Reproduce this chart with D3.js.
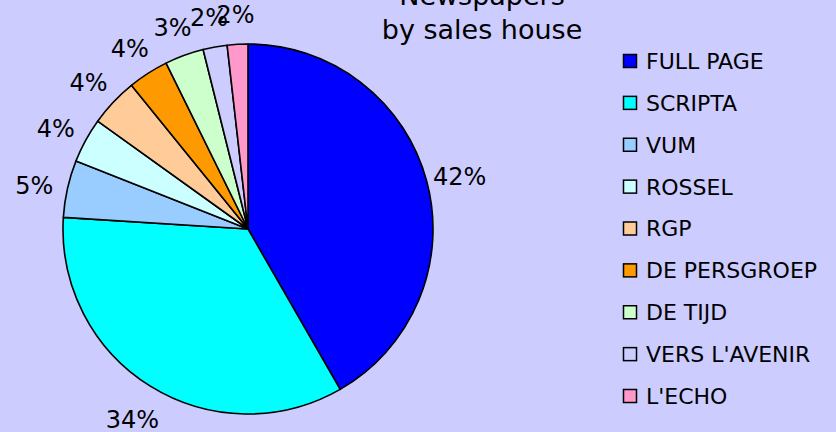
<!DOCTYPE html>
<html>
<head>
<meta charset="utf-8">
<script src="https://cdn.jsdelivr.net/npm/d3@7"></script>
<style>
  html, body { margin: 0; padding: 0; background: #ccccff; }
  svg { display: block; font-family: "DejaVu Sans", Verdana, sans-serif; }
</style>
</head>
<body>
<svg id="chart" width="836" height="432"></svg>
<script>
const title_lines = ['Newspapers', 'by sales house']
const houses = ['FULL PAGE', 'SCRIPTA', 'VUM', 'ROSSEL', 'RGP', 'DE PERSGROEP', 'DE TIJD', "VERS L'AVENIR", "L'ECHO"]
const shares = [41.7, 34.3, 5.0, 3.9, 4.25, 3.55, 3.4, 2.1, 1.8]
const colours = ['#0000ff', '#00ffff', '#99ccff', '#ccffff', '#ffcc99', '#ff9900', '#ccffcc', '#ccccff', '#ff99cc']

const width = 836
const height = 432
const cx = 248
const cy = 229
const radius = 185
const label_radius = 219

const svg = d3.select('#chart')

svg.append('rect')
  .attr('width', width)
  .attr('height', height)
  .attr('fill', '#ccccff')

const rows = houses.map((h, i)=> ({ house: h, share: shares[i], colour: colours[i] }))
const total = d3.sum(shares)

const pie = d3.pie()
  .value((d)=> d.share)
  .sort(null)

const arc = d3.arc()
  .innerRadius(0)
  .outerRadius(radius)

const label_arc = d3.arc()
  .innerRadius(label_radius)
  .outerRadius(label_radius)

const arcs = pie(rows)
const g = svg.append('g').attr('transform', `translate(${cx},${cy})`)

g.selectAll('.slice')
  .data(arcs)
  .enter()
  .append('path')
  .attr('class', 'slice')
  .attr('d', arc)
  .attr('fill', (d)=> d.data.colour)
  .attr('stroke', '#000')
  .attr('stroke-width', 1.6)
  .attr('stroke-linejoin', 'round')

// labels sit a little low, like excel does it
g.selectAll('.pct')
  .data(arcs)
  .enter()
  .append('text')
  .attr('class', 'pct')
  .attr('transform', (d)=> {
    const [x, y] = label_arc.centroid(d)
    return `translate(${x},${y + 4})`
  })
  .attr('text-anchor', 'middle')
  .attr('dy', '0.36em')
  .attr('font-size', 24)
  .attr('fill', '#000')
  .text((d)=> `${Math.round(d.data.share / total * 100)}%`)

// title, first line is cut by the top edge as in the original
svg.selectAll('.title')
  .data(title_lines)
  .enter()
  .append('text')
  .attr('class', 'title')
  .attr('x', 482)
  .attr('y', (d, i)=> 5 + i * 34)
  .attr('text-anchor', 'middle')
  .attr('font-size', 27)
  .attr('fill', '#000')
  .text((d)=> d)

const legend_y = d3.scalePoint()
  .domain(houses)
  .range([61, 396])

const legend = svg.selectAll('.legend')
  .data(rows)
  .enter()
  .append('g')
  .attr('class', 'legend')
  .attr('transform', (d)=> `translate(623,${legend_y(d.house)})`)

legend.append('rect')
  .attr('x', 0.5)
  .attr('y', -6.5)
  .attr('width', 13)
  .attr('height', 13)
  .attr('fill', (d)=> d.colour)
  .attr('stroke', '#000')
  .attr('stroke-width', 1.5)

legend.append('text')
  .attr('x', 23)
  .attr('dy', '0.36em')
  .attr('font-size', 22)
  .attr('fill', '#000')
  .text((d)=> d.house)
</script>
</body>
</html>
